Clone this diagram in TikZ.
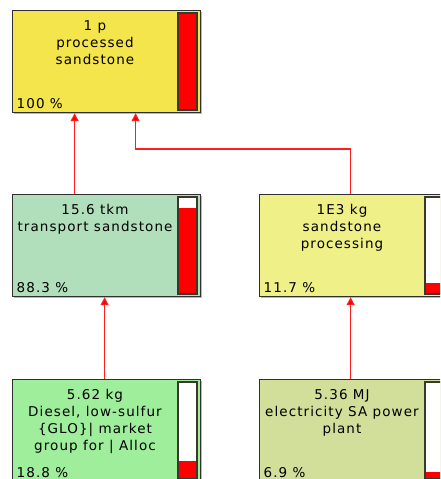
\documentclass[tikz,border=0pt]{standalone}
\usepackage{fontspec}
\setmainfont{DejaVu Sans}[LetterSpace=8]
\usetikzlibrary{arrows.meta}

\definecolor{procyellow}{HTML}{F3E54B}
\definecolor{transgreen}{HTML}{B1DFBB}
\definecolor{proclight}{HTML}{F0F088}
\definecolor{dieselgreen}{HTML}{9EEE9B}
\definecolor{elecolive}{HTML}{D2DF9A}
\definecolor{boxline}{HTML}{303030}

\begin{document}
\begin{tikzpicture}[x=1pt,y=-1pt,
    procbox/.style={draw=boxline,line width=1.2pt,minimum width=188pt,minimum height=102pt,anchor=north west,inner sep=0pt},
    flow/.style={draw={rgb,255:red,255;green,30;blue,30},line width=1.1pt,-{Triangle[width=8pt,length=8pt,fill=red]}}]
    \path[use as bounding box,clip] (0,0) rectangle (440,479);
    \foreach \n/\x/\y/\col/\pct/\txt in {processed/12/10/procyellow/100/{1 p\\processed\\sandstone},
        transport/12/194/transgreen/88.3/{15.6 tkm\\transport sandstone},
        processing/259/194/proclight/11.7/{1E3 kg\\sandstone\\processing},
        diesel/12/379/dieselgreen/18.8/{5.62 kg\\Diesel, low-sulfur\\\{GLO\}| market\\group for | Alloc},
        electricity/259/379/elecolive/6.9/{5.36 MJ\\electricity SA power\\plant}} {
        \fill[gray!55] (\x+1.5,\y+1.5) rectangle (\x+189.5,\y+103.5);
        \node[procbox,fill=\col] (\n) at (\x,\y) {};
        \node[font=\fontsize{13.5}{17}\selectfont,align=center,anchor=north,inner sep=0pt] at (\x+83,\y+10.5) {\txt};
        \node[font=\fontsize{13.5}{17}\selectfont,anchor=base west,inner sep=0pt] at (\x+4.5,\y+98) {\pct\ \%};
        \fill[white] (\x+166,\y+3) rectangle (\x+185,\y+100);
        \fill[red] (\x+166,\y+100) rectangle (\x+185,\y+100-0.97*\pct);
        \draw[boxline!90!olive,line width=1.2pt] (\x+166,\y+3) rectangle (\x+185,\y+100);
    }
    \draw[flow] ([xshift=-32pt]transport.north) -- ([xshift=-32pt]processed.south);
    \draw[flow] ([xshift=-3pt]processing.north) -- ++(0,-45) -| ([xshift=29pt]processed.south);
    \draw[flow] ([xshift=-2pt]diesel.north) -- ([xshift=-2pt]transport.south);
    \draw[flow] ([xshift=-3pt]electricity.north) -- ([xshift=-3pt]processing.south);
\end{tikzpicture}
\end{document}
